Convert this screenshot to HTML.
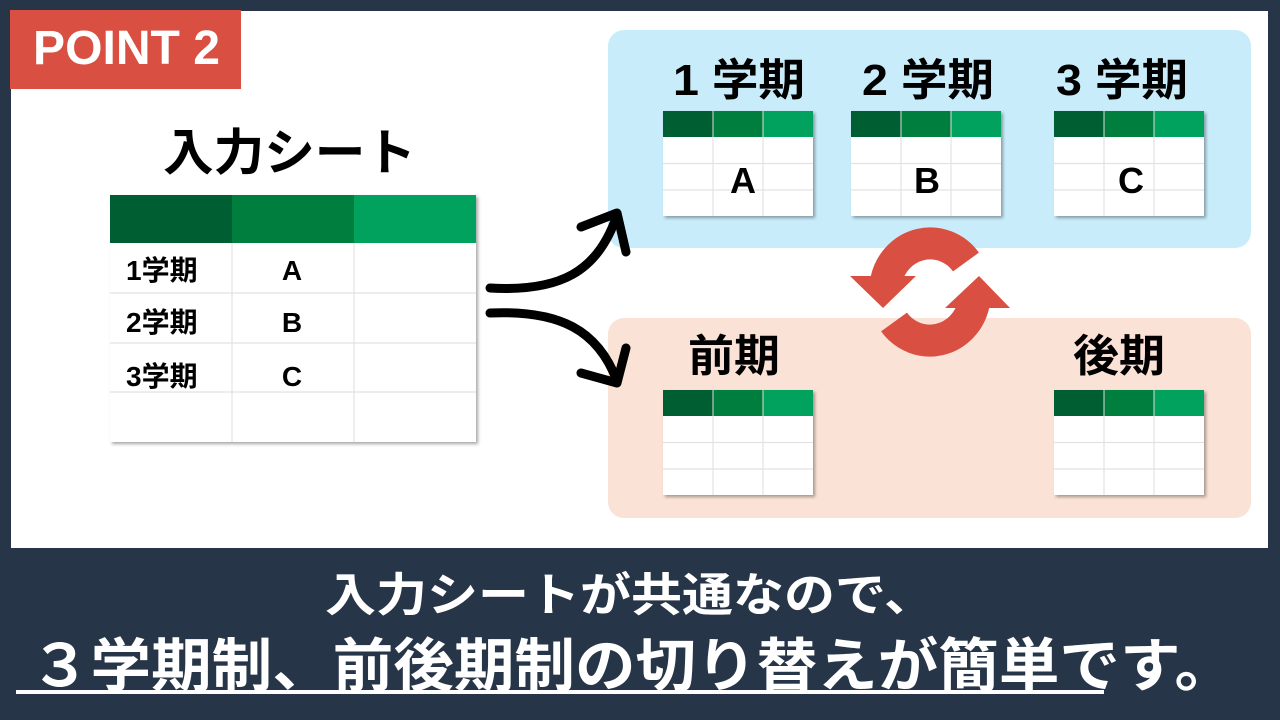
<!DOCTYPE html>
<html><head><meta charset="utf-8"><style>
html,body{margin:0;padding:0;background:#263547;}
svg{display:block}
text{font-family:"Liberation Sans","Noto Sans CJK JP",sans-serif;}
</style></head><body>
<svg width="1280" height="720" viewBox="0 0 1280 720" xmlns="http://www.w3.org/2000/svg">
<defs>
<filter id="sh" x="-10%" y="-10%" width="130%" height="130%"><feDropShadow dx="2" dy="2" stdDeviation="1.5" flood-color="#000" flood-opacity="0.35"/></filter>
<g id="mini">
  <rect x="0" y="0" width="150" height="105" fill="#fff" filter="url(#sh)"/>
  <rect x="0" y="0" width="50" height="26" fill="#005e33"/>
  <rect x="50" y="0" width="50" height="26" fill="#007e3d"/>
  <rect x="100" y="0" width="50" height="26" fill="#00a25e"/>
  <g stroke="#e2e2e2" stroke-width="1.2">
    <line x1="0" y1="52.5" x2="150" y2="52.5"/><line x1="0" y1="79" x2="150" y2="79"/>
    <line x1="50" y1="26" x2="50" y2="105"/><line x1="100" y1="26" x2="100" y2="105"/>
  </g>
  <g stroke="#ddd" stroke-width="1"><line x1="50" y1="0" x2="50" y2="26"/><line x1="100" y1="0" x2="100" y2="26"/></g>
</g>
</defs>
<rect width="1280" height="720" fill="#263547"/>
<rect x="11" y="11" width="1257" height="537" fill="#fff"/>
<rect x="10" y="10" width="231" height="79" fill="#d94f41"/>
<text x="33" y="64" font-size="48" font-weight="bold" fill="#fff" textLength="187" lengthAdjust="spacingAndGlyphs">POINT 2</text>
<text x="163" y="170" font-size="50" font-weight="bold" fill="#000" textLength="253" lengthAdjust="spacingAndGlyphs">入力シート</text>

<g>
<rect x="110" y="195" width="366" height="247" fill="#fff" filter="url(#sh)"/>
<rect x="110" y="195" width="122" height="48" fill="#005e33"/>
<rect x="232" y="195" width="122" height="48" fill="#007e3d"/>
<rect x="354" y="195" width="122" height="48" fill="#00a25e"/>
<g stroke="#e2e2e2" stroke-width="1.2">
<line x1="110" y1="293" x2="476" y2="293"/><line x1="110" y1="343" x2="476" y2="343"/><line x1="110" y1="392" x2="476" y2="392"/>
<line x1="232" y1="243" x2="232" y2="442"/><line x1="354" y1="243" x2="354" y2="442"/>
</g>
<g font-size="28" font-weight="bold" fill="#000">
<text x="126" y="280">1学期</text><text x="126" y="332">2学期</text><text x="126" y="386">3学期</text>
<text x="292" y="280" text-anchor="middle">A</text><text x="292" y="332" text-anchor="middle">B</text><text x="292" y="386" text-anchor="middle">C</text>
</g>
</g>

<rect x="608" y="30" width="643" height="218" rx="16" fill="#c9ecfa"/>
<rect x="608" y="318" width="643" height="200" rx="16" fill="#fbe2d6"/>

<g fill="none" stroke="#000" stroke-width="9" stroke-linecap="round" stroke-linejoin="round">
<path d="M490,288 C560,292 598,272 617,215"/>
<path d="M581,227 L617,213 L626,252"/>
<path d="M490,313 C560,310 598,330 617,381"/>
<path d="M581,373 L617,383 L626,348"/>
</g>

<g font-size="44" font-weight="bold" fill="#000">
<text x="673" y="95" textLength="132" lengthAdjust="spacingAndGlyphs">1 学期</text>
<text x="862" y="95" textLength="132" lengthAdjust="spacingAndGlyphs">2 学期</text>
<text x="1056" y="95" textLength="132" lengthAdjust="spacingAndGlyphs">3 学期</text>
<text x="688" y="371" textLength="92" lengthAdjust="spacingAndGlyphs">前期</text>
<text x="1073" y="371" textLength="92" lengthAdjust="spacingAndGlyphs">後期</text>
</g>

<use href="#mini" x="663" y="111"/>
<use href="#mini" x="851" y="111"/>
<use href="#mini" x="1054" y="111"/>
<use href="#mini" x="663" y="390"/>
<use href="#mini" x="1054" y="390"/>
<g font-size="36" font-weight="bold" fill="#000" text-anchor="middle">
<text x="743" y="193">A</text><text x="927" y="193">B</text><text x="1131" y="193">C</text>
</g>

<g fill="none" stroke="#d94f41" stroke-width="32">
<path d="M886.3,280 A45,47 0 0 1 966,262"/>
<path d="M973.7,304 A45,47 0 0 1 894,322"/>
</g>
<polygon points="850,276 916,276 883,308" fill="#d94f41"/>
<polygon points="945,308 1010,308 979,276" fill="#d94f41"/>

<text x="325" y="611" font-size="46" font-weight="bold" fill="#fff" textLength="610" lengthAdjust="spacingAndGlyphs">入力シートが共通なので、</text>
<text x="30" y="686" font-size="58" font-weight="bold" fill="#fff" textLength="1205" lengthAdjust="spacingAndGlyphs">３学期制、前後期制の切り替えが簡単です。</text>
<rect x="16" y="690" width="1088" height="4" fill="#fff"/>
</svg>
</body></html>
